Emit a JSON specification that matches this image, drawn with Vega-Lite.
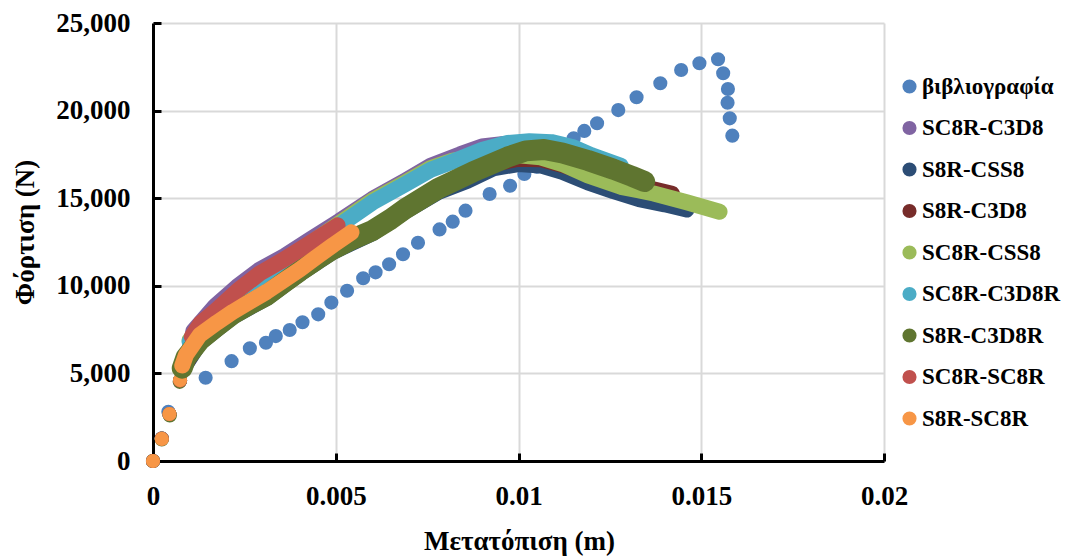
{
  "$schema": "https://vega.github.io/schema/vega-lite/v6.json",
  "width": 731,
  "height": 438,
  "autosize": {"type": "none"},
  "padding": {"left": 153, "top": 23, "right": 181, "bottom": 95},
  "background": "white",
  "config": {
    "view": {"stroke": null},
    "font": "Liberation Serif",
    "axis": {
      "labelFont": "Liberation Serif", "labelFontWeight": "bold", "labelFontSize": 27, "labelColor": "black",
      "titleFont": "Liberation Serif", "titleFontWeight": "bold", "titleFontSize": 27, "titleColor": "black",
      "domainColor": "black", "domainWidth": 3, "tickColor": "black", "tickWidth": 3, "tickSize": -8,
      "gridColor": "#d9d9d9", "gridWidth": 2, "labelFlush": false
    },
    "legend": {
      "labelFont": "Liberation Serif", "labelFontWeight": "bold", "labelFontSize": 23, "labelColor": "black"
    }
  },
  "data": {"values": [
    {"series":"βιβλιογραφία","x":0,"y":0},
    {"series":"βιβλιογραφία","x":0.00042,"y":2810},
    {"series":"βιβλιογραφία","x":0.00144,"y":4750},
    {"series":"βιβλιογραφία","x":0.00215,"y":5700},
    {"series":"βιβλιογραφία","x":0.00265,"y":6430},
    {"series":"βιβλιογραφία","x":0.00309,"y":6750},
    {"series":"βιβλιογραφία","x":0.00336,"y":7130},
    {"series":"βιβλιογραφία","x":0.00374,"y":7480},
    {"series":"βιβλιογραφία","x":0.00409,"y":7920},
    {"series":"βιβλιογραφία","x":0.00452,"y":8370},
    {"series":"βιβλιογραφία","x":0.00488,"y":9040},
    {"series":"βιβλιογραφία","x":0.00531,"y":9720},
    {"series":"βιβλιογραφία","x":0.00575,"y":10430},
    {"series":"βιβλιογραφία","x":0.00609,"y":10770},
    {"series":"βιβλιογραφία","x":0.00646,"y":11230},
    {"series":"βιβλιογραφία","x":0.00684,"y":11800},
    {"series":"βιβλιογραφία","x":0.00725,"y":12460},
    {"series":"βιβλιογραφία","x":0.00784,"y":13220},
    {"series":"βιβλιογραφία","x":0.0082,"y":13660},
    {"series":"βιβλιογραφία","x":0.00855,"y":14290},
    {"series":"βιβλιογραφία","x":0.00921,"y":15240},
    {"series":"βιβλιογραφία","x":0.00977,"y":15710},
    {"series":"βιβλιογραφία","x":0.01016,"y":16380},
    {"series":"βιβλιογραφία","x":0.0105,"y":16800},
    {"series":"βιβλιογραφία","x":0.011,"y":17600},
    {"series":"βιβλιογραφία","x":0.01151,"y":18420},
    {"series":"βιβλιογραφία","x":0.0118,"y":18840},
    {"series":"βιβλιογραφία","x":0.01215,"y":19280},
    {"series":"βιβλιογραφία","x":0.01273,"y":20030},
    {"series":"βιβλιογραφία","x":0.01323,"y":20760},
    {"series":"βιβλιογραφία","x":0.01388,"y":21560},
    {"series":"βιβλιογραφία","x":0.01445,"y":22320},
    {"series":"βιβλιογραφία","x":0.01495,"y":22700},
    {"series":"βιβλιογραφία","x":0.01546,"y":22930},
    {"series":"βιβλιογραφία","x":0.0156,"y":22130},
    {"series":"βιβλιογραφία","x":0.01573,"y":21230},
    {"series":"βιβλιογραφία","x":0.01572,"y":20450},
    {"series":"βιβλιογραφία","x":0.01578,"y":19560},
    {"series":"βιβλιογραφία","x":0.01585,"y":18570},

    {"series":"SC8R-C3D8","x":0,"y":0},
    {"series":"SC8R-C3D8","x":0.00024,"y":1280},
    {"series":"SC8R-C3D8","x":0.00045,"y":2680},
    {"series":"SC8R-C3D8","x":0.00074,"y":4600},
    {"series":"SC8R-C3D8","x":0.0011,"y":7400},
    {"series":"SC8R-C3D8","x":0.0017,"y":8850},
    {"series":"SC8R-C3D8","x":0.0023,"y":9950},
    {"series":"SC8R-C3D8","x":0.0029,"y":10900},
    {"series":"SC8R-C3D8","x":0.0036,"y":11700},
    {"series":"SC8R-C3D8","x":0.0043,"y":12650},
    {"series":"SC8R-C3D8","x":0.0051,"y":13700},
    {"series":"SC8R-C3D8","x":0.006,"y":14950},
    {"series":"SC8R-C3D8","x":0.0069,"y":16000},
    {"series":"SC8R-C3D8","x":0.0076,"y":16850},
    {"series":"SC8R-C3D8","x":0.0084,"y":17500},
    {"series":"SC8R-C3D8","x":0.009,"y":17950},
    {"series":"SC8R-C3D8","x":0.0096,"y":18100},

    {"series":"S8R-CSS8","x":0,"y":0},
    {"series":"S8R-CSS8","x":0.00024,"y":1280},
    {"series":"S8R-CSS8","x":0.00045,"y":2680},
    {"series":"S8R-CSS8","x":0.00074,"y":4600},
    {"series":"S8R-CSS8","x":0.0008,"y":5200},
    {"series":"S8R-CSS8","x":0.00128,"y":6750},
    {"series":"S8R-CSS8","x":0.00219,"y":8250},
    {"series":"S8R-CSS8","x":0.00311,"y":9300},
    {"series":"S8R-CSS8","x":0.00402,"y":10700},
    {"series":"S8R-CSS8","x":0.00493,"y":11950},
    {"series":"S8R-CSS8","x":0.006,"y":13000},
    {"series":"S8R-CSS8","x":0.0069,"y":14250},
    {"series":"S8R-CSS8","x":0.0078,"y":15350},
    {"series":"S8R-CSS8","x":0.0086,"y":16000},
    {"series":"S8R-CSS8","x":0.0093,"y":16700},
    {"series":"S8R-CSS8","x":0.01,"y":16950},
    {"series":"S8R-CSS8","x":0.0106,"y":16870},
    {"series":"S8R-CSS8","x":0.0112,"y":16500},
    {"series":"S8R-CSS8","x":0.0119,"y":15900},
    {"series":"S8R-CSS8","x":0.0126,"y":15400},
    {"series":"S8R-CSS8","x":0.0133,"y":14950},
    {"series":"S8R-CSS8","x":0.014,"y":14650},
    {"series":"S8R-CSS8","x":0.0146,"y":14350},

    {"series":"S8R-C3D8","x":0,"y":0},
    {"series":"S8R-C3D8","x":0.00024,"y":1280},
    {"series":"S8R-C3D8","x":0.00045,"y":2680},
    {"series":"S8R-C3D8","x":0.00074,"y":4600},
    {"series":"S8R-C3D8","x":0.0008,"y":5250},
    {"series":"S8R-C3D8","x":0.00128,"y":6850},
    {"series":"S8R-C3D8","x":0.00219,"y":8350},
    {"series":"S8R-C3D8","x":0.00311,"y":9400},
    {"series":"S8R-C3D8","x":0.00402,"y":10800},
    {"series":"S8R-C3D8","x":0.00493,"y":12050},
    {"series":"S8R-C3D8","x":0.006,"y":13100},
    {"series":"S8R-C3D8","x":0.0069,"y":14350},
    {"series":"S8R-C3D8","x":0.0078,"y":15450},
    {"series":"S8R-C3D8","x":0.0086,"y":16250},
    {"series":"S8R-C3D8","x":0.0093,"y":16950},
    {"series":"S8R-C3D8","x":0.01,"y":17250},
    {"series":"S8R-C3D8","x":0.0106,"y":17230},
    {"series":"S8R-C3D8","x":0.0112,"y":16900},
    {"series":"S8R-C3D8","x":0.0119,"y":16400},
    {"series":"S8R-C3D8","x":0.0126,"y":15950},
    {"series":"S8R-C3D8","x":0.0133,"y":15700},
    {"series":"S8R-C3D8","x":0.0138,"y":15450},
    {"series":"S8R-C3D8","x":0.0142,"y":15250},

    {"series":"SC8R-CSS8","x":0,"y":0},
    {"series":"SC8R-CSS8","x":0.00024,"y":1280},
    {"series":"SC8R-CSS8","x":0.00045,"y":2680},
    {"series":"SC8R-CSS8","x":0.00074,"y":4600},
    {"series":"SC8R-CSS8","x":0.001,"y":6900},
    {"series":"SC8R-CSS8","x":0.0017,"y":8350},
    {"series":"SC8R-CSS8","x":0.0029,"y":10150},
    {"series":"SC8R-CSS8","x":0.0043,"y":12400},
    {"series":"SC8R-CSS8","x":0.0051,"y":13570},
    {"series":"SC8R-CSS8","x":0.006,"y":14870},
    {"series":"SC8R-CSS8","x":0.0069,"y":15900},
    {"series":"SC8R-CSS8","x":0.0076,"y":16720},
    {"series":"SC8R-CSS8","x":0.0082,"y":17150},
    {"series":"SC8R-CSS8","x":0.0088,"y":17350},
    {"series":"SC8R-CSS8","x":0.0094,"y":17420},
    {"series":"SC8R-CSS8","x":0.01,"y":17450},
    {"series":"SC8R-CSS8","x":0.0106,"y":17330},
    {"series":"SC8R-CSS8","x":0.0112,"y":16950},
    {"series":"SC8R-CSS8","x":0.0119,"y":16300},
    {"series":"SC8R-CSS8","x":0.0128,"y":15650},
    {"series":"SC8R-CSS8","x":0.0133,"y":15450},
    {"series":"SC8R-CSS8","x":0.0137,"y":15270},
    {"series":"SC8R-CSS8","x":0.0146,"y":14770},
    {"series":"SC8R-CSS8","x":0.0155,"y":14230},

    {"series":"SC8R-C3D8R","x":0,"y":0},
    {"series":"SC8R-C3D8R","x":0.00024,"y":1280},
    {"series":"SC8R-C3D8R","x":0.00045,"y":2680},
    {"series":"SC8R-C3D8R","x":0.00074,"y":4600},
    {"series":"SC8R-C3D8R","x":0.001,"y":6800},
    {"series":"SC8R-C3D8R","x":0.0013,"y":7500},
    {"series":"SC8R-C3D8R","x":0.0017,"y":8250},
    {"series":"SC8R-C3D8R","x":0.0022,"y":9050},
    {"series":"SC8R-C3D8R","x":0.0029,"y":10050},
    {"series":"SC8R-C3D8R","x":0.0036,"y":11100},
    {"series":"SC8R-C3D8R","x":0.0043,"y":12300},
    {"series":"SC8R-C3D8R","x":0.0051,"y":13450},
    {"series":"SC8R-C3D8R","x":0.006,"y":14750},
    {"series":"SC8R-C3D8R","x":0.0069,"y":15800},
    {"series":"SC8R-C3D8R","x":0.0076,"y":16620},
    {"series":"SC8R-C3D8R","x":0.0084,"y":17250},
    {"series":"SC8R-C3D8R","x":0.009,"y":17750},
    {"series":"SC8R-C3D8R","x":0.0097,"y":18150},
    {"series":"SC8R-C3D8R","x":0.0103,"y":18250},
    {"series":"SC8R-C3D8R","x":0.0109,"y":18200},
    {"series":"SC8R-C3D8R","x":0.0115,"y":17900},
    {"series":"SC8R-C3D8R","x":0.012,"y":17450},
    {"series":"SC8R-C3D8R","x":0.0124,"y":17150},
    {"series":"SC8R-C3D8R","x":0.0128,"y":16850},

    {"series":"S8R-C3D8R","x":0,"y":0},
    {"series":"S8R-C3D8R","x":0.00024,"y":1230},
    {"series":"S8R-C3D8R","x":0.00046,"y":2600},
    {"series":"S8R-C3D8R","x":0.00073,"y":4520},
    {"series":"S8R-C3D8R","x":0.0008,"y":5300},
    {"series":"S8R-C3D8R","x":0.0009,"y":5900},
    {"series":"S8R-C3D8R","x":0.00128,"y":6900},
    {"series":"S8R-C3D8R","x":0.00175,"y":7700},
    {"series":"S8R-C3D8R","x":0.00219,"y":8400},
    {"series":"S8R-C3D8R","x":0.00265,"y":8950},
    {"series":"S8R-C3D8R","x":0.00311,"y":9450},
    {"series":"S8R-C3D8R","x":0.00356,"y":10150},
    {"series":"S8R-C3D8R","x":0.00402,"y":10850},
    {"series":"S8R-C3D8R","x":0.00448,"y":11500},
    {"series":"S8R-C3D8R","x":0.00493,"y":12100},
    {"series":"S8R-C3D8R","x":0.0055,"y":12700},
    {"series":"S8R-C3D8R","x":0.006,"y":13150},
    {"series":"S8R-C3D8R","x":0.0065,"y":13800},
    {"series":"S8R-C3D8R","x":0.0069,"y":14400},
    {"series":"S8R-C3D8R","x":0.0078,"y":15550},
    {"series":"S8R-C3D8R","x":0.00875,"y":16500},
    {"series":"S8R-C3D8R","x":0.0097,"y":17350},
    {"series":"S8R-C3D8R","x":0.0102,"y":17700},
    {"series":"S8R-C3D8R","x":0.0107,"y":17780},
    {"series":"S8R-C3D8R","x":0.0112,"y":17580},
    {"series":"S8R-C3D8R","x":0.0119,"y":17150},
    {"series":"S8R-C3D8R","x":0.0126,"y":16650},
    {"series":"S8R-C3D8R","x":0.0131,"y":16250},
    {"series":"S8R-C3D8R","x":0.01345,"y":15950},

    {"series":"SC8R-SC8R","x":0,"y":0},
    {"series":"SC8R-SC8R","x":0.00024,"y":1280},
    {"series":"SC8R-SC8R","x":0.00045,"y":2680},
    {"series":"SC8R-SC8R","x":0.00074,"y":4600},
    {"series":"SC8R-SC8R","x":0.00106,"y":7100},
    {"series":"SC8R-SC8R","x":0.0013,"y":7850},
    {"series":"SC8R-SC8R","x":0.00174,"y":8620},
    {"series":"SC8R-SC8R","x":0.00233,"y":9760},
    {"series":"SC8R-SC8R","x":0.00292,"y":10710},
    {"series":"SC8R-SC8R","x":0.00356,"y":11470},
    {"series":"SC8R-SC8R","x":0.00429,"y":12430},
    {"series":"SC8R-SC8R","x":0.00505,"y":13450},

    {"series":"S8R-SC8R","x":0,"y":0},
    {"series":"S8R-SC8R","x":0.00024,"y":1260},
    {"series":"S8R-SC8R","x":0.00045,"y":2680},
    {"series":"S8R-SC8R","x":0.00074,"y":4620},
    {"series":"S8R-SC8R","x":0.0008,"y":5450},
    {"series":"S8R-SC8R","x":0.0009,"y":6050},
    {"series":"S8R-SC8R","x":0.00128,"y":7190},
    {"series":"S8R-SC8R","x":0.00175,"y":7900},
    {"series":"S8R-SC8R","x":0.00219,"y":8520},
    {"series":"S8R-SC8R","x":0.00265,"y":9100},
    {"series":"S8R-SC8R","x":0.00311,"y":9660},
    {"series":"S8R-SC8R","x":0.00356,"y":10300},
    {"series":"S8R-SC8R","x":0.00402,"y":10940},
    {"series":"S8R-SC8R","x":0.00448,"y":11650},
    {"series":"S8R-SC8R","x":0.00493,"y":12330},
    {"series":"S8R-SC8R","x":0.00543,"y":13050}
  ]},
  "encoding": {
    "x": {"field": "x", "type": "quantitative",
      "scale": {"domain": [0, 0.02], "nice": false, "zero": false},
      "axis": {"values": [0, 0.005, 0.01, 0.015, 0.02], "format": "~g", "title": "Μετατόπιση (m)", "labelFlush": false,
        "labelPadding": 30, "titleX": 366, "titleY": 80, "titleBaseline": "middle", "titleAlign": "center"}},
    "y": {"field": "y", "type": "quantitative",
      "scale": {"domain": [0, 25000], "nice": false},
      "axis": {"values": [0, 5000, 10000, 15000, 20000, 25000], "format": ",.0f", "title": "Φόρτιση (N)", "labelFlush": false,
        "labelPadding": 31, "titleX": -128, "titleY": 209, "titleBaseline": "middle", "titleAlign": "center", "titleAngle": -90}},
    "color": {"field": "series", "type": "nominal",
      "scale": {
        "domain": ["βιβλιογραφία", "SC8R-C3D8", "S8R-CSS8", "S8R-C3D8", "SC8R-CSS8", "SC8R-C3D8R", "S8R-C3D8R", "SC8R-SC8R", "S8R-SC8R"],
        "range": ["#4F81BD", "#8064A2", "#2C4D75", "#772C2A", "#9BBB59", "#4BACC6", "#5F7530", "#C0504D", "#F79646"]
      },
      "legend": {"title": null, "orient": "none", "legendX": 745, "legendY": 52,
        "symbolType": "circle", "symbolSize": 200, "symbolStrokeWidth": 0, "rowPadding": 17.5, "labelOffset": 1}}
  },
  "layer": [
    {"transform": [{"filter": "datum.series === 'βιβλιογραφία' || datum.x < 0.0008"}],
     "mark": {"type": "point", "filled": true, "size": 200, "opacity": 1, "strokeWidth": 0}},
    {"transform": [{"filter": "datum.series === 'SC8R-C3D8' && datum.x >= 0.0008"}],
     "mark": {"type": "line", "strokeWidth": 16, "strokeCap": "round", "strokeJoin": "round"},
     "encoding": {"color": {"field": "series", "type": "nominal", "legend": null}}},
    {"transform": [{"filter": "datum.series === 'S8R-CSS8' && datum.x >= 0.0008"}],
     "mark": {"type": "line", "strokeWidth": 16, "strokeCap": "round", "strokeJoin": "round"},
     "encoding": {"color": {"field": "series", "type": "nominal", "legend": null}}},
    {"transform": [{"filter": "datum.series === 'S8R-C3D8' && datum.x >= 0.0008"}],
     "mark": {"type": "line", "strokeWidth": 16, "strokeCap": "round", "strokeJoin": "round"},
     "encoding": {"color": {"field": "series", "type": "nominal", "legend": null}}},
    {"transform": [{"filter": "datum.series === 'SC8R-CSS8' && datum.x >= 0.0008"}],
     "mark": {"type": "line", "strokeWidth": 16, "strokeCap": "round", "strokeJoin": "round"},
     "encoding": {"color": {"field": "series", "type": "nominal", "legend": null}}},
    {"transform": [{"filter": "datum.series === 'SC8R-C3D8R' && datum.x >= 0.0008"}],
     "mark": {"type": "line", "strokeWidth": 16, "strokeCap": "round", "strokeJoin": "round"},
     "encoding": {"color": {"field": "series", "type": "nominal", "legend": null}}},
    {"transform": [{"filter": "datum.series === 'S8R-C3D8R' && datum.x >= 0.0008"}],
     "mark": {"type": "line", "strokeWidth": 21, "strokeCap": "round", "strokeJoin": "round"},
     "encoding": {"color": {"field": "series", "type": "nominal", "legend": null}}},
    {"transform": [{"filter": "datum.series === 'SC8R-SC8R' && datum.x >= 0.0008"}],
     "mark": {"type": "line", "strokeWidth": 16, "strokeCap": "round", "strokeJoin": "round"},
     "encoding": {"color": {"field": "series", "type": "nominal", "legend": null}}},
    {"transform": [{"filter": "datum.series === 'S8R-SC8R' && datum.x >= 0.0008"}],
     "mark": {"type": "line", "strokeWidth": 16, "strokeCap": "round", "strokeJoin": "round"},
     "encoding": {"color": {"field": "series", "type": "nominal", "legend": null}}}
  ]
}
